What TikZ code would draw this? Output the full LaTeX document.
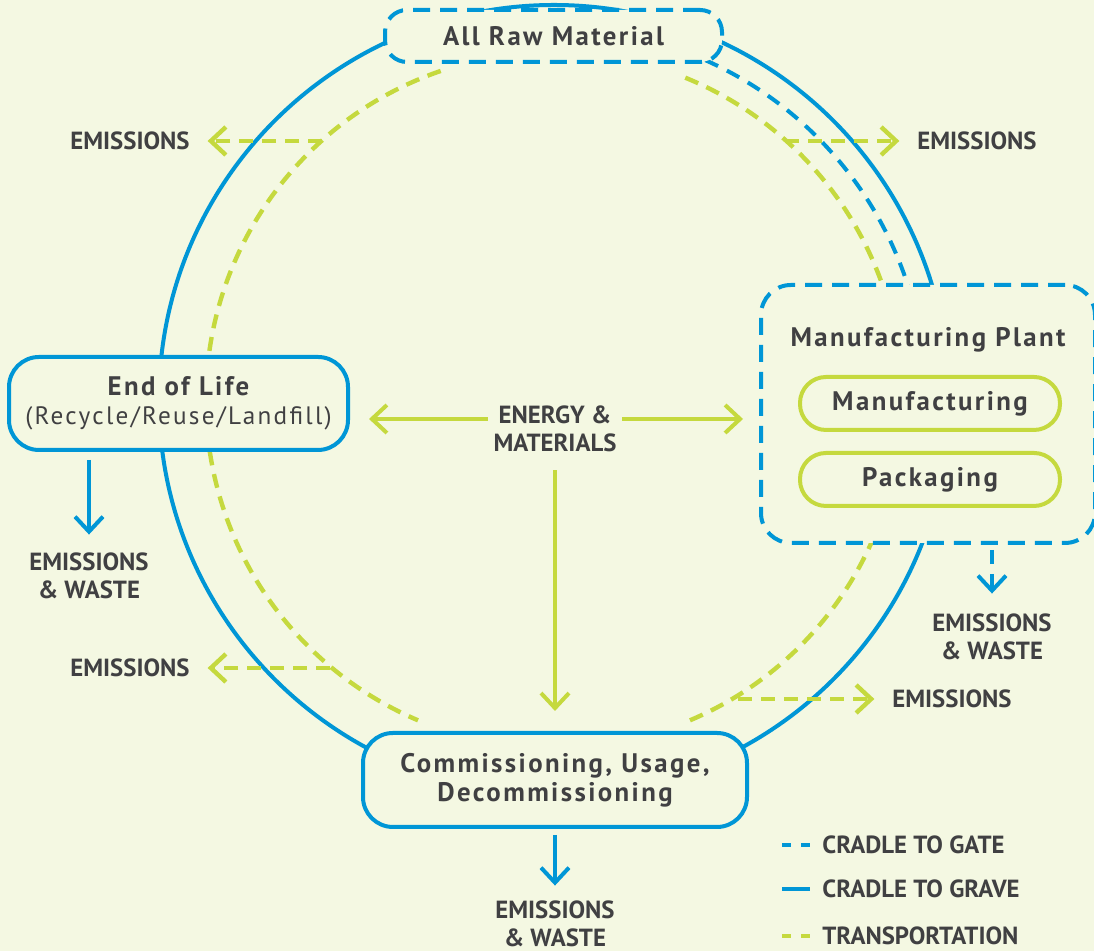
\documentclass[tikz,border=0pt]{standalone}
\usepackage{fontspec}
\setmainfont{PT Sans}
\newfontfamily\wide[LetterSpace=9]{PT Sans}
\usetikzlibrary{arrows.meta}
\definecolor{lcablue}{RGB}{0,150,214}
\definecolor{lcagreen}{RGB}{197,217,62}
\definecolor{lcatext}{RGB}{64,64,66}
\definecolor{lcapaper}{RGB}{244,248,226}
\newcommand{\labelfont}{\fontsize{12.4pt}{14pt}\selectfont\bfseries}
\newcommand{\stagefont}{\fontsize{13.4pt}{14.5pt}\selectfont\wide\bfseries}
\newcommand{\notefont}{\fontsize{12.6pt}{14.5pt}\selectfont\mdseries}

\begin{document}
\begin{tikzpicture}[x=0.5pt,y=0.5pt,
    stage/.style ={draw=lcablue, line width=2pt, fill=lcapaper, rounded corners=15pt,
                   align=center, font=\stagefont, text=lcatext},
    gatebox/.style ={stage, dash pattern=on 8.5pt off 5pt},
    process/.style ={draw=lcagreen, line width=2pt, fill=lcapaper, rounded corners=13pt,
                   minimum width=130pt, minimum height=26.5pt, font=\stagefont, text=lcatext},
    outlabel/.style ={font=\labelfont, text=lcatext, inner sep=0pt, align=center},
    emission/.style ={outlabel, outer sep=9pt},
    grave/.style ={draw=lcablue, line width=2pt},
    gate/.style ={draw=lcablue, line width=2pt, dash pattern=on 7pt off 5pt},
    transport/.style ={draw=lcagreen, line width=2.2pt, dash pattern=on 7pt off 4.5pt},
    flow/.style ={draw=lcagreen, line width=2pt},
    chevron/.style ={-{Straight Barb[length=7.5pt,width=14pt]}}]

   \useasboundingbox[fill=lcapaper] (0,0) rectangle (1094,951);

   % life cycle rings
   \coordinate (C) at (554,551);
   \draw[grave] (C) circle[radius=395];
   \draw[gate] (C) ++(66:372) arc[start angle=66, end angle=17, radius=372];
   \draw[transport] (C) ++(109:348) arc[start angle=109, end angle=247, radius=348];
   \draw[transport] (C) ++(-67:348) arc[start angle=-67, end angle=69, radius=348];

   % emissions off the transport ring
   \node[emission] (emTL) at (130,810) {EMISSIONS};
   \node[emission] (emTR) at (977,810) {EMISSIONS};
   \node[emission] (emBL) at (130,283) {EMISSIONS};
   \node[emission] (emBR) at (952,252) {EMISSIONS};
   \coordinate (pTL) at (322,810);
   \coordinate (pTR) at (785,810);
   \coordinate (pBL) at (330,283);
   \coordinate (pBR) at (738,252);
   \draw[transport, chevron] (pTL) to (emTL);
   \draw[transport, chevron] (pTR) to (emTR);
   \draw[transport, chevron] (pBL) to (emBL);
   \draw[transport, chevron] (pBR) to (emBR);

   % stages
   \node[gatebox, rounded corners=11pt, minimum width=168.5pt, minimum height=26pt] (raw) at (553.5,915) {All Raw Material};
   \node[stage, minimum width=169.5pt, minimum height=46.5pt] (endlife) at (178.5,547.5)
        {End of Life\\{\notefont(Recycle/Reuse/Landfill)}};
   \node[stage, minimum width=192pt, minimum height=47pt] (usage) at (555,171)
        {Commissioning, Usage,\\Decommissioning};
   \node[gatebox, minimum width=167pt, minimum height=129pt] (plant) at (928,537) {};
   \node[outlabel, font=\stagefont] (plantname) at (928,611) {Manufacturing Plant};
   \node[process] (manuf) at (930,547.5) {Manufacturing};
   \node[process] (pack) at (930,471.5) {Packaging};

   % energy and materials
   \node[outlabel, outer sep=3pt] (energy) at (555,522) {ENERGY \&\\MATERIALS};
   \draw[flow, chevron, shorten >=9.5pt] ([yshift=5pt]energy.west) to ([yshift=5pt]energy.west -| endlife.east);
   \draw[flow, chevron, shorten >=8pt] ([yshift=5pt]energy.east) to ([yshift=5pt]energy.east -| plant.west);
   \draw[flow, chevron, shorten <=6pt, shorten >=10pt] (energy.south) to (usage.north);

   % emissions and waste
   \node[outlabel] (ewEL) at (89,375) {EMISSIONS\\\& WASTE};
   \node[outlabel] (ewUS) at (555,27) {EMISSIONS\\\& WASTE};
   \node[outlabel] (ewMP) at (992,314) {EMISSIONS\\\& WASTE};
   \draw[grave, chevron, shorten <=4pt, shorten >=9pt] (endlife.south -| ewEL.north) to (ewEL.north);
   \draw[grave, chevron, shorten <=3pt, shorten >=7.5pt] (usage.south) to (ewUS.north);
   \draw[gate, chevron, shorten <=2.5pt, shorten >=10pt] (plant.south -| ewMP.north) to (ewMP.north);

   % legend
   \node[outlabel, anchor=west] (lgGate) at (822,106) {CRADLE TO GATE};
   \node[outlabel, anchor=west] (lgGrave) at (822,62) {CRADLE TO GRAVE};
   \node[outlabel, anchor=west] (lgTrans) at (822,15) {TRANSPORTATION};
   \draw[gate, dash pattern=on 4.5pt off 5pt] ([xshift=-20pt]lgGate.west) to ([xshift=-6pt]lgGate.west);
   \draw[grave] ([xshift=-20pt]lgGrave.west) to ([xshift=-6pt]lgGrave.west);
   \draw[transport, dash pattern=on 4.5pt off 5pt] ([xshift=-20pt]lgTrans.west) to ([xshift=-6pt]lgTrans.west);
\end{tikzpicture}
\end{document}
